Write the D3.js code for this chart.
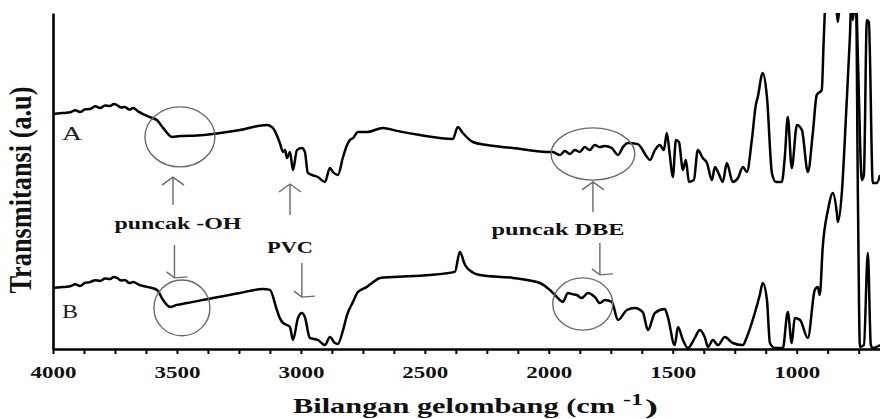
<!DOCTYPE html>
<html>
<head>
<meta charset="utf-8">
<script src="https://cdn.jsdelivr.net/npm/d3@7"></script>
<style>
  body { margin: 0; background: #fff; }
  svg { display: block; }
  .serif { font-family: "Liberation Serif", "Times New Roman", "DejaVu Serif", serif; }
</style>
</head>
<body>
<script>
// FTIR spectra, [wavenumber cm-1, transmittance a.u.]
var spectrumA = [
  [4000,78.3],[3970,78.6],[3952,78.7],[3930,78.9],[3910,79.6],[3891,79],[3870,79.9],[3851,80],
  [3830,80.9],[3810,80.3],[3790,81.2],[3770,81],[3755,81.7],[3742,81.3],[3725,80.5],[3710,80.7],
  [3692,79.8],[3677,80.3],[3655,79.1],[3637,78.3],[3600,77],[3581,76.3],[3556,73.7],[3520,70.7],
  [3488,71],[3420,71.2],[3355,71.7],[3246,73],[3137,74.7],[3113,73.7],[3085,68.7],[3072,65.7],
  [3064,66.3],[3056,63.7],[3044,65.7],[3032,59.7],[3016,66.3],[2996,67],[2984,65.7],[2972,58.7],
  [2955,58],[2931,57.3],[2903,55.7],[2883,60.3],[2871,59],[2851,58],[2830,64],[2814,68],
  [2802,69.7],[2790,70.3],[2770,72.3],[2734,72.3],[2669,73.7],[2613,72.7],[2520,71.3],[2387,70],
  [2367,74],[2347,72],[2306,69],[2250,68],[2145,67],[2008,65.7],[1984,65.7],[1967,65],
  [1955,64.7],[1935,66],[1915,65],[1895,66.3],[1875,65.7],[1855,67.3],[1835,66.3],[1815,68],
  [1795,67.3],[1775,67.7],[1746,67],[1721,64.7],[1701,67.3],[1681,68.7],[1641,68.3],[1604,64],
  [1592,63],[1572,66.3],[1552,68],[1536,66.3],[1524,72],[1512,64.7],[1500,57.3],[1487,69.7],
  [1475,69],[1459,59.7],[1447,63],[1435,55.7],[1415,56.3],[1399,66.3],[1379,63.7],[1362,62],
  [1342,56.3],[1330,60.7],[1314,58.3],[1298,55.7],[1282,62],[1258,55.7],[1237,57],[1217,60.7],
  [1201,59],[1181,69.7],[1165,81.3],[1157,84],[1137,92],[1120,84],[1100,58.7],[1084,55.7],
  [1060,55.7],[1048,64],[1036,77.3],[1020,60.3],[999,74.7],[979,73],[955,59],[935,72],
  [919,84.7],[899,86.3],[891,103],[882,118],[846,118],[834,109],[822,118],[786,118],
  [774,109.7],[761,118],[753,96.3],[737,56.3],[729,58],[717,109.7],[709,109],[693,55.3],
  [677,55.3],[664,58]
];

var spectrumB = [
  [4000,20.3],[3970,20.6],[3952,20.7],[3930,20.9],[3910,21.6],[3891,21],[3870,22.1],[3851,22.3],
  [3830,22.9],[3810,22.7],[3790,23.5],[3770,23.3],[3755,24],[3742,23.7],[3725,22.8],[3710,23],
  [3692,22],[3677,22.3],[3650,21.3],[3621,20.7],[3581,19.7],[3556,16.3],[3528,14],[3500,14.7],
  [3460,15.3],[3355,17],[3246,18.7],[3153,20],[3125,19.7],[3097,13],[3085,10.3],[3072,8.7],
  [3056,8],[3044,7.3],[3032,3],[3012,10.3],[2996,12],[2984,10.7],[2964,3.7],[2931,3],
  [2903,1.3],[2883,4],[2863,2],[2851,1.7],[2830,6.3],[2814,11.3],[2790,15.7],[2770,19],
  [2734,20.7],[2713,22],[2681,23.7],[2629,24],[2480,24.7],[2379,25.7],[2359,32.3],[2338,28],
  [2310,25.7],[2278,24.7],[2145,23.7],[2036,22],[1996,19.7],[1967,17.3],[1955,16.3],[1943,15.7],
  [1923,18.7],[1905,18.3],[1887,18],[1867,17],[1842,18.7],[1814,17.3],[1794,15.3],[1774,16.3],
  [1746,15.7],[1721,9.7],[1685,13],[1653,13.7],[1621,12.3],[1600,6.3],[1572,12],[1532,13.3],
  [1520,10.7],[1492,1.3],[1479,7.3],[1459,3],[1439,0.3],[1411,3.7],[1391,6.3],[1370,3.7],
  [1358,0.7],[1338,3],[1318,1.3],[1290,4],[1258,2],[1217,1.3],[1201,4],[1169,12],
  [1149,18],[1137,22],[1120,16.3],[1108,2],[1088,0.3],[1056,0.3],[1036,12.3],[1020,2],
  [1008,10.3],[987,9.7],[955,3.7],[927,19.7],[915,20.7],[907,18],[895,34],[874,46.3],
  [854,52],[838,45.3],[834,42.3],[818,52],[802,76.3],[786,103],[778,118],[761,118],
  [753,49.7],[745,0.7],[729,1.3],[713,32],[701,1.3],[693,0.3],[664,1.3]
];

var xTickValues = d3.range(4000, 664, -125);
var xTickLabels = [4000, 3500, 3000, 2500, 2000, 1500, 1000];

// annotations, in data units
var circles = [
  {wn: 3488, t: 70.7, rw: 141, rt: 10},
  {wn: 3480, t: 13.7, rw: 113, rt: 9.3},
  {wn: 1822, t: 65,   rw: 169, rt: 8.7},
  {wn: 1863, t: 15,   rw: 121, rt: 8.7}
];
var upArrows = [[3516, 48, 57.3], [3044, 44.7, 55], [1822, 45.7, 55.7]];
var downArrows = [[3510, 34.7, 23.7], [2996, 28.7, 17.3], [1794, 35.3, 24.7]];
var notes = [
  {text: "puncak -OH", wn: 3496, t: 40, w: 127},
  {text: "PVC", wn: 3044, t: 32, w: 46},
  {text: "puncak DBE", wn: 1963, t: 38, w: 133}
];
var traceLabels = [{text: "A", wn: 3964, t: 69.7, w: 20}, {text: "B", wn: 3964, t: 10.3, w: 16}];

var width = 880, height = 419;
var x = d3.scaleLinear().domain([4000, 664]).range([53, 880]);
var y = d3.scaleLinear().domain([0, 112]).range([349, 13]);

var svg = d3.select("body").append("svg")
    .attr("width", width)
    .attr("height", height);

svg.append("rect").attr("width", width).attr("height", height).attr("fill", "#fff");

svg.append("clipPath").attr("id", "plot")
  .append("rect")
    .attr("x", x(4000)).attr("y", y(112))
    .attr("width", x(664) - x(4000)).attr("height", y(0) - y(112) + 2);

var line = d3.line()
    .x(function(d) { return x(d[0]); })
    .y(function(d) { return y(d[1]); })
    .curve(d3.curveMonotoneX);

[spectrumA, spectrumB].forEach(function(s) {
  svg.append("path")
      .datum(s)
      .attr("clip-path", "url(#plot)")
      .attr("fill", "none")
      .attr("stroke", "#000")
      .attr("stroke-width", 2.5)
      .attr("stroke-linejoin", "round")
      .attr("d", line);
});

// axes
var xAxis = d3.axisBottom(x)
    .tickValues(xTickValues)
    .tickSize(5)
    .tickSizeOuter(0)
    .tickFormat(function(d) { return xTickLabels.indexOf(d) >= 0 ? d : ""; });

var gx = svg.append("g")
    .attr("transform", "translate(0," + y(0) + ")")
    .call(xAxis);
gx.select(".domain").attr("stroke", "#000").attr("stroke-width", 2.6);
gx.selectAll(".tick line").attr("stroke", "#000").attr("stroke-width", 2);
gx.selectAll(".tick text")
    .attr("class", "serif")
    .attr("y", 29).attr("dy", 0)
    .attr("fill", "#111")
    .style("font-size", "17px")
    .style("font-weight", "bold")
    .attr("textLength", function(d) { return xTickLabels.indexOf(d) >= 0 ? 46 : null; })
    .attr("lengthAdjust", "spacingAndGlyphs");

var gy = svg.append("g")
    .attr("transform", "translate(" + x(4000) + ",0)")
    .call(d3.axisLeft(y).tickValues([]).tickSizeOuter(0));
gy.select(".domain").attr("stroke", "#000").attr("stroke-width", 2.6);

// axis titles
var title = svg.append("g").attr("class", "serif").attr("fill", "#111").style("font-weight", "bold");
title.append("text")
    .attr("x", 293).attr("y", 413)
    .style("font-size", "21px")
    .attr("textLength", 322).attr("lengthAdjust", "spacingAndGlyphs")
    .text("Bilangan gelombang (cm");
title.append("text")
    .attr("x", 623).attr("y", 405)
    .style("font-size", "16px")
    .attr("textLength", 20).attr("lengthAdjust", "spacingAndGlyphs")
    .text("-1");
title.append("text")
    .attr("x", 645).attr("y", 414)
    .style("font-size", "21px")
    .attr("textLength", 13).attr("lengthAdjust", "spacingAndGlyphs")
    .text(")");
title.append("text")
    .attr("transform", "translate(31,190) rotate(-90) scale(1,1.4)")
    .attr("text-anchor", "middle")
    .style("font-size", "22px")
    .attr("textLength", 207).attr("lengthAdjust", "spacingAndGlyphs")
    .text("Transmitansi (a.u)");

// annotations
var ann = svg.append("g").attr("fill", "none").attr("stroke", "#6a6a6a").attr("stroke-width", 1.4);

ann.selectAll("ellipse")
    .data(circles)
  .enter().append("ellipse")
    .attr("cx", function(d) { return x(d.wn); })
    .attr("cy", function(d) { return y(d.t); })
    .attr("rx", function(d) { return Math.abs(x(d.wn + d.rw) - x(d.wn)); })
    .attr("ry", function(d) { return Math.abs(y(d.t + d.rt) - y(d.t)); });

ann.selectAll(".up")
    .data(upArrows)
  .enter().append("path")
    .attr("class", "up")
    .attr("d", function(d) {
      var px = x(d[0]), y0 = y(d[1]), y1 = y(d[2]);
      return "M" + px + "," + y0 + "V" + y1 +
             "M" + (px - 11) + "," + (y1 + 8) + "L" + px + "," + y1 + "L" + (px + 11) + "," + (y1 + 8);
    });

ann.selectAll(".down")
    .data(downArrows)
  .enter().append("path")
    .attr("class", "down")
    .attr("d", function(d) {
      var px = x(d[0]), y0 = y(d[1]), y1 = y(d[2]);
      return "M" + px + "," + y0 + "V" + y1 +
             "M" + (px - 8) + "," + (y1 - 6) + "L" + px + "," + y1 + "L" + (px + 13) + "," + (y1 - 1);
    });

svg.selectAll(".note")
    .data(notes)
  .enter().append("text")
    .attr("class", "serif")
    .attr("x", function(d) { return x(d.wn) - d.w / 2; })
    .attr("y", function(d) { return y(d.t); })
    .attr("fill", "#111")
    .style("font-size", "16px")
    .style("font-weight", "bold")
    .attr("textLength", function(d) { return d.w; })
    .attr("lengthAdjust", "spacingAndGlyphs")
    .text(function(d) { return d.text; });

svg.selectAll(".trace")
    .data(traceLabels)
  .enter().append("text")
    .attr("class", "serif")
    .attr("x", function(d) { return x(d.wn); })
    .attr("y", function(d) { return y(d.t); })
    .attr("fill", "#222")
    .style("font-size", "18px")
    .attr("textLength", function(d) { return d.w; })
    .attr("lengthAdjust", "spacingAndGlyphs")
    .text(function(d) { return d.text; });
</script>
</body>
</html>
